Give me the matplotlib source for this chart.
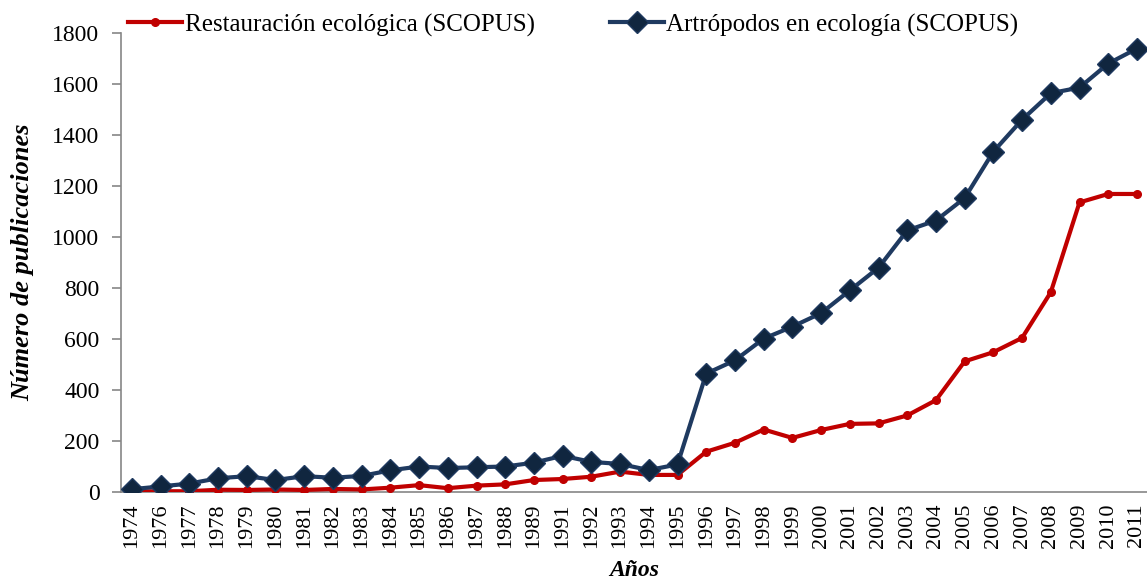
import matplotlib
matplotlib.use("Agg")
import matplotlib.pyplot as plt

years = ["1974", "1976", "1977", "1978", "1979", "1980", "1981", "1982", "1983",
         "1984", "1985", "1986", "1987", "1988", "1989", "1991", "1992", "1993",
         "1994", "1995", "1996", "1997", "1998", "1999", "2000", "2001", "2002",
         "2003", "2004", "2005", "2006", "2007", "2008", "2009", "2010", "2011"]

restauracion = [2, 3, 3, 9, 8, 10, 8, 12, 10, 17, 27, 15, 25, 30, 47, 51, 60, 80,
                67, 67, 158, 193, 245, 212, 243, 267, 269, 300, 360, 512, 548, 604,
                783, 1135, 1168, 1168]

artropodos = [11, 22, 33, 54, 62, 47, 62, 56, 63, 85, 100, 94, 97, 100, 115, 142,
              118, 110, 86, 108, 464, 516, 601, 648, 701, 790, 879, 1025, 1064,
              1152, 1334, 1459, 1563, 1585, 1679, 1738]

label_red = "Restauración ecológica (SCOPUS)"
label_blue = "Artrópodos en ecología (SCOPUS)"
yticks = [0, 200, 400, 600, 800, 1000, 1200, 1400, 1600, 1800]

plt.rcParams['font.family'] = ['Liberation Serif', 'DejaVu Serif']

fig = plt.figure(figsize=(11.47, 5.84), dpi=100)
ax = fig.add_axes([0.1055, 0.1575, 0.8945, 0.7865])

x = list(range(len(years)))
ax.plot(x, restauracion, color='#C00000', lw=3, marker='o', ms=5.5,
        mfc='#C00000', mec='#C00000', label=label_red, zorder=3)
ax.plot(x, artropodos, color='#1F3A60', lw=3, marker='D', ms=11,
        mfc='#10263F', mec='#1F3A60', mew=1, label=label_blue, zorder=4)

ax.set_xlim(-0.38, 35.35)
ax.set_ylim(0, 1800)
ax.set_yticks(yticks)
ax.set_yticklabels([str(v) for v in yticks], fontsize=17)
ax.set_xticks(x)
ax.set_xticklabels(years, rotation=90, fontsize=16)
ax.tick_params(axis='x', length=0, pad=8)
ax.tick_params(axis='y', length=6.5, width=1.2, color='#868686', pad=9)

for s in ['top', 'right']:
    ax.spines[s].set_visible(False)
for s in ['left', 'bottom']:
    ax.spines[s].set_color('#868686')
    ax.spines[s].set_linewidth(1.2)

ax.set_ylabel("Número de publicaciones", fontsize=19, fontweight='bold',
              fontstyle='italic')
ax.yaxis.set_label_coords(-0.085, 0.5)
ax.set_xlabel("Años", fontsize=17, fontweight='bold', fontstyle='italic')
ax.xaxis.set_label_coords(0.5, -0.148)

fig.legend(loc='center left', bbox_to_anchor=(0.103, 0.957), ncol=2,
           frameon=False, fontsize=18, handlelength=2.16, handletextpad=0.1,
           columnspacing=3.0, borderaxespad=0)

fig.savefig("out.png", dpi=100)
